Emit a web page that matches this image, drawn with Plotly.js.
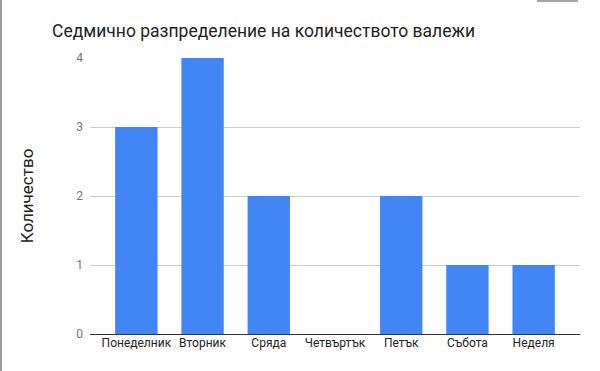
<!DOCTYPE html>
<html>
<head>
<meta charset="utf-8">
<script src="https://cdn.plot.ly/plotly-3.0.1.min.js"></script>
<style>html,body{margin:0;padding:0;background:#fff;}#chart{width:600px;height:371px;}</style>
</head>
<body>
<div id="chart"></div>
<script>
const categories = ["Понеделник", "Вторник", "Сряда", "Четвъртък", "Петък", "Събота", "Неделя"];
const values = [3, 4, 2, 0, 2, 1, 1];
const yTicks = [0, 1, 2, 3, 4];
const titleText = "Седмично разпределение на количеството валежи";
const yTitle = "Количество";

const trace = {
  type: "bar",
  x: categories,
  y: values,
  width: 0.64,
  marker: {color: "#4285F4", line: {width: 0}},
  hoverinfo: "x+y"
};

const layout = {
  width: 600,
  height: 371,
  margin: {l: 90, r: 20, t: 58, b: 37},
  paper_bgcolor: "#fff",
  plot_bgcolor: "#fff",
  font: {family: "Roboto, Arial, sans-serif"},
  title: {
    text: titleText,
    font: {family: "Roboto, Arial, sans-serif", size: 17.5, color: "#222"},
    x: 52 / 600, xanchor: "left", xref: "container",
    y: 1 - 31 / 371, yanchor: "middle", yref: "container"
  },
  xaxis: {
    type: "category",
    range: [-0.7, 6.7],
    showgrid: false,
    showline: false,
    ticks: "",
    tickfont: {size: 12, color: "#222"},
    fixedrange: true
  },
  yaxis: {
    range: [0, 4],
    tickvals: yTicks,
    ticktext: yTicks.map(String),
    showgrid: true,
    gridcolor: "#cccccc",
    gridwidth: 1,
    zeroline: true,
    zerolinecolor: "#333333",
    zerolinewidth: 1,
    showline: false,
    ticks: "",
    ticklen: 0,
    tickfont: {size: 12, color: "#757575"},
    ticklabelstandoff: 6,
    title: {text: yTitle, font: {size: 17, color: "#222"}, standoff: 38},
    fixedrange: true
  },
  showlegend: false,
  shapes: [
    {type: "line", xref: "paper", yref: "paper", x0: -89/490, x1: -89/490, y0: -37/276, y1: 1 + 58/276,
     line: {color: "#9e9e9e", width: 2}},
    {type: "line", xref: "paper", yref: "paper", x0: (537-90)/490, x1: (578-90)/490, y0: 1 + 57/276, y1: 1 + 57/276,
     line: {color: "#8a8a8a", width: 1.5}}
  ]
};

Plotly.newPlot("chart", [trace], layout, {displayModeBar: false, staticPlot: true});
</script>
</body>
</html>
